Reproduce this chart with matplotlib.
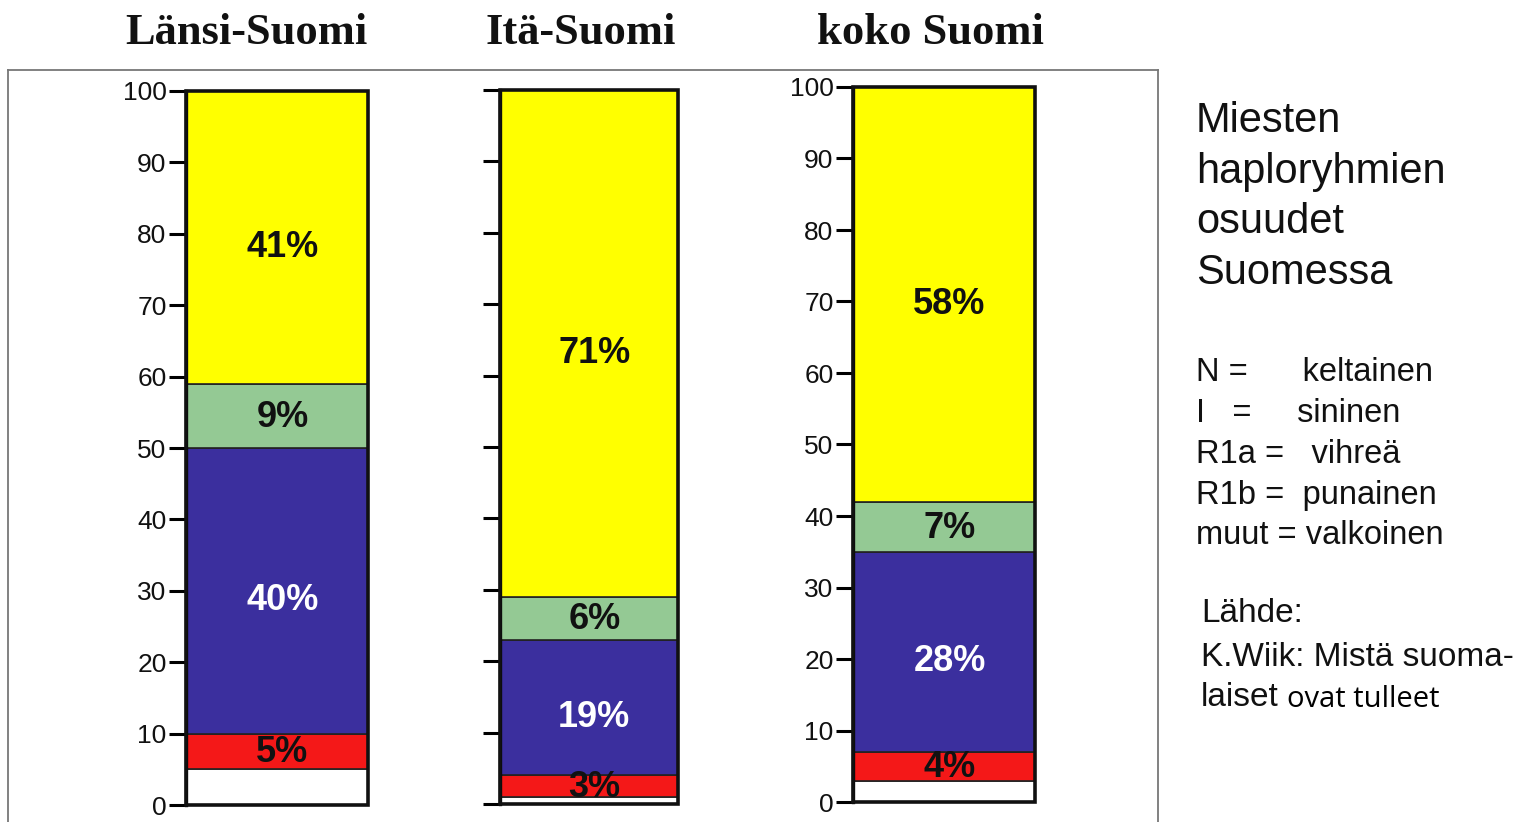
import matplotlib.pyplot as plt
import numpy as np
from matplotlib.lines import Line2D
from matplotlib.patches import Rectangle

# Shares of male Y-haplogroups (percent), bottom -> top of each bar
regions = ["Länsi-Suomi", "Itä-Suomi", "koko Suomi"]
muut = [5, 1, 3]       # white
r1b = [5, 3, 4]        # red
hg_i = [40, 19, 28]    # blue
r1a = [9, 6, 7]        # green
hg_n = [41, 71, 58]    # yellow

segments = [muut, r1b, hg_i, r1a, hg_n]
seg_colors = ["#ffffff", "#f41818", "#3b2f9e", "#94c994", "#ffff00"]
label_colors = [None, "#111111", "#ffffff", "#111111", "#111111"]
show_ticklabels = [True, False, True]

W, H = 1533, 822
fig = plt.figure(figsize=(W / 100, H / 100), dpi=100)

# axes placement in pixels: (left, right, y of 0, y of 100)
boxes = [(186, 368, 805, 91), (500, 678, 804, 90), (853, 1035, 802, 87)]
title_x = [246, 581, 930]

# grey frame round the chart part (no bottom edge visible)
frame_kw = dict(color="#777777", lw=1.3, transform=fig.transFigure)
fl, fr, ft = 8 / W, 1158 / W, 1 - 70 / H
fig.add_artist(Line2D([fl, fl], [0, ft], **frame_kw))
fig.add_artist(Line2D([fl, fr], [ft, ft], **frame_kw))
fig.add_artist(Line2D([fr, fr], [ft, 0], **frame_kw))

for k, (x0, x1, y0, y100) in enumerate(boxes):
    ax = fig.add_axes([x0 / W, 1 - y0 / H, (x1 - x0) / W, (y0 - y100) / H])
    bottom = 0
    for seg, col, lcol in zip(segments, seg_colors, label_colors):
        v = seg[k]
        ax.bar(0, v, bottom=bottom, width=1, color=col, edgecolor="#222222",
               linewidth=1.2, align="edge")
        if lcol is not None:
            shift = 1.4 if v > 15 else 0.2
            ax.text(0.53, bottom + v / 2 - shift, f"{v}%", ha="center",
                    va="center", fontsize=26, fontweight="bold", color=lcol,
                    family="Liberation Sans")
        bottom += v
    # heavier outline round the whole bar
    ax.add_patch(Rectangle((0, 0), 1, bottom, fill=False, edgecolor="#111111",
                           linewidth=2.6, clip_on=False, zorder=5))
    ax.set_xlim(0, 1)
    ax.set_ylim(0, 100)
    ax.set_yticks(np.arange(0, 101, 10))
    ax.set_xticks([])
    for side in ["top", "right", "bottom"]:
        ax.spines[side].set_visible(False)
    ax.spines["left"].set_linewidth(2.4)
    ax.tick_params(axis="y", length=12, width=2.2, pad=2, labelsize=19,
                   labelleft=show_ticklabels[k], labelcolor="#111111")
    for lab in ax.get_yticklabels():
        lab.set_family("Liberation Sans")
    fig.text(title_x[k] / W, 1 - 33 / H, regions[k], ha="center", va="center",
             fontsize=32, fontweight="bold", family="Liberation Serif",
             color="#111111")

# right-hand text block
title_lines = ["Miesten", "haploryhmien", "osuudet", "Suomessa"]
for i, line in enumerate(title_lines):
    fig.text(1196 / W, 1 - (121 + i * 50.5) / H, line, ha="left", va="center",
             fontsize=30, family="Liberation Sans", color="#111111")

legend_lines = ["N =      keltainen", "I   =     sininen", "R1a =   vihreä",
                "R1b =  punainen", "muut = valkoinen"]
for i, line in enumerate(legend_lines):
    fig.text(1196 / W, 1 - (372 + i * 41) / H, line, ha="left", va="center",
             fontsize=23.5, family="Liberation Sans", color="#111111")

fig.text(1201 / W, 1 - 613 / H, "Lähde:", ha="left", va="center",
         fontsize=24, family="Liberation Sans", color="#111111")
fig.text(1201 / W, 1 - 657 / H, "K.Wiik: Mistä suoma-", ha="left", va="center",
         fontsize=24, family="Liberation Sans", color="#111111")
fig.text(1201 / W, 1 - 697 / H, "laiset", ha="left", va="center",
         fontsize=24, family="Liberation Sans", color="#111111")
fig.text(1287 / W, 1 - 699 / H, "ovat tulleet", ha="left", va="center",
         fontsize=21, family="Open Sans", color="#000000")

fig.savefig("out.png", dpi=100)
